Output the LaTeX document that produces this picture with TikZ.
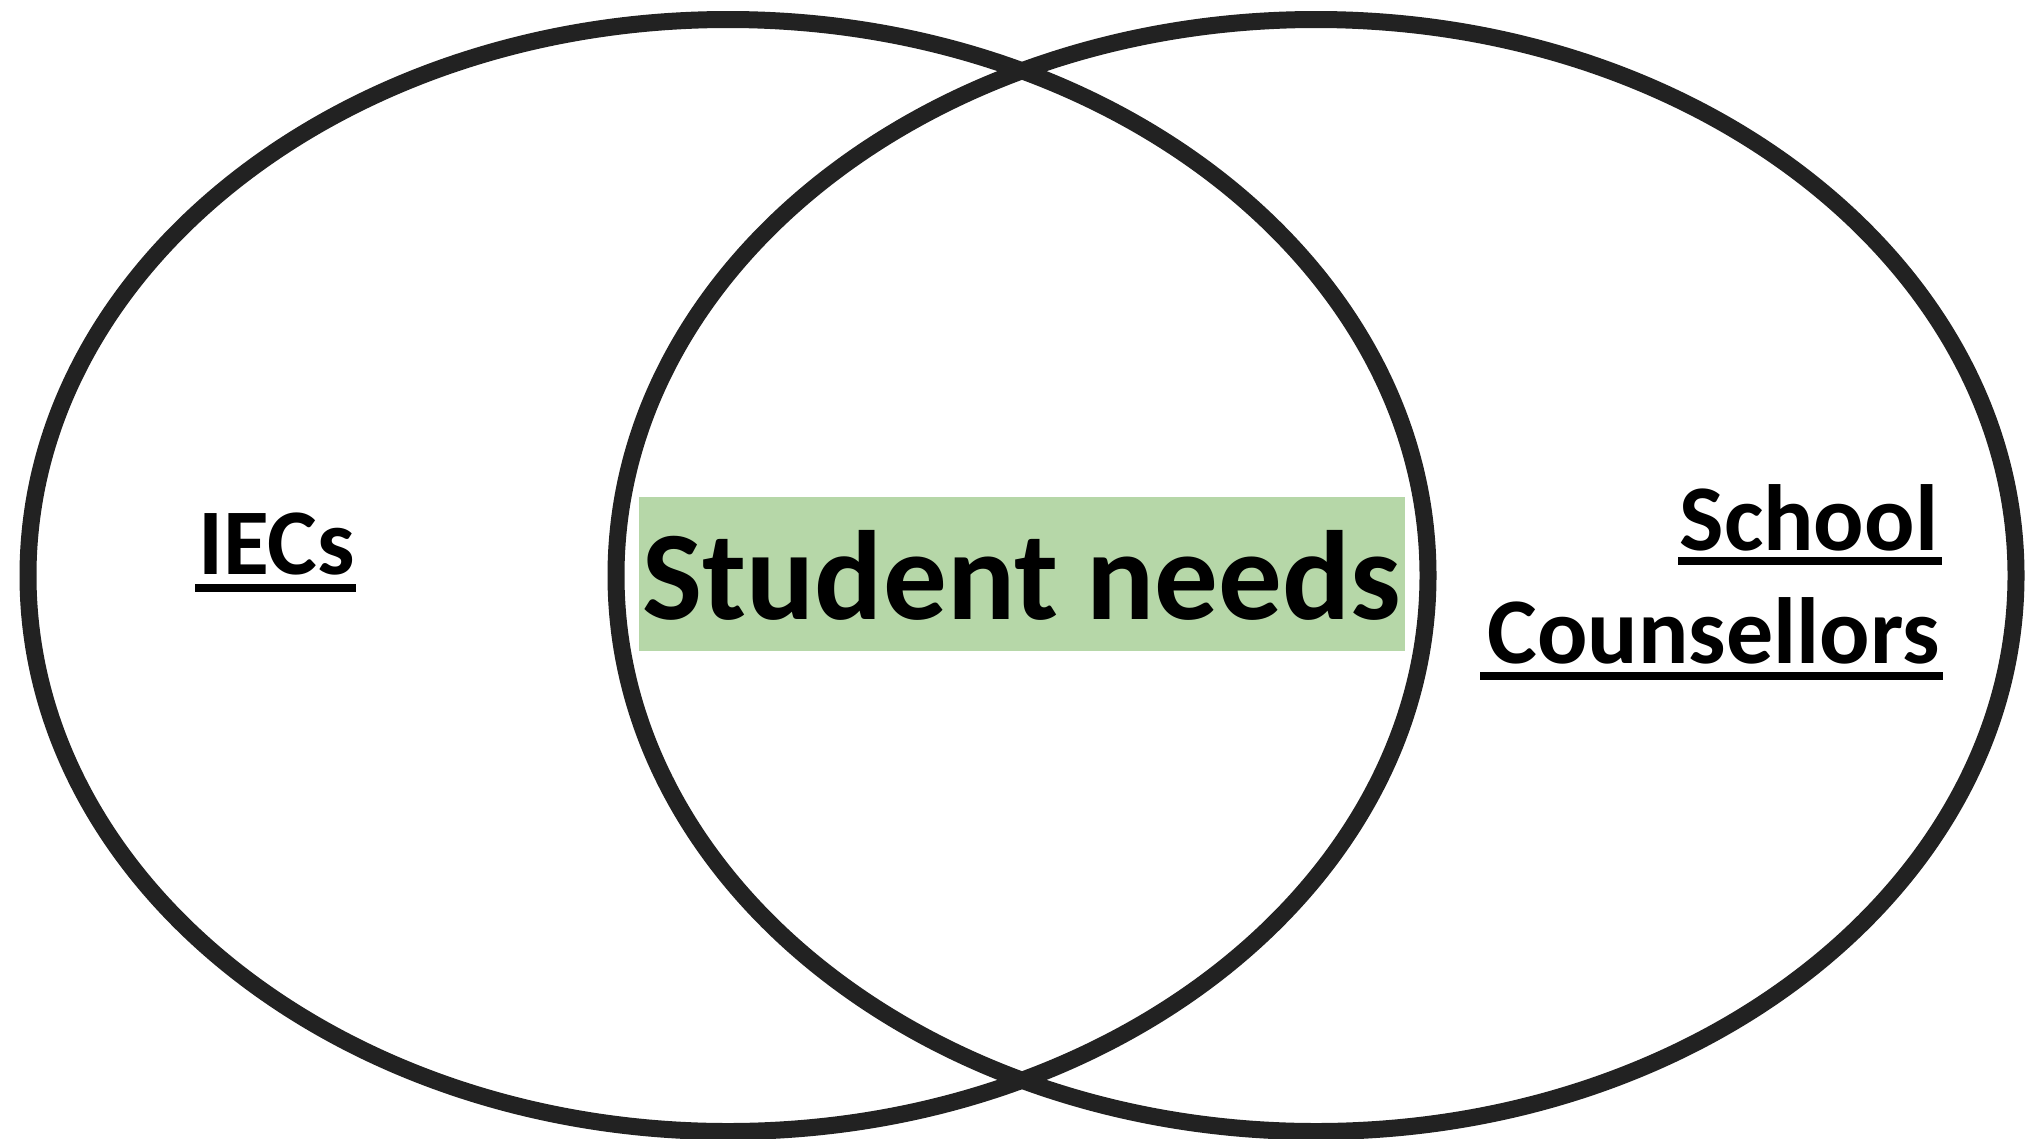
\documentclass[tikz,border=0pt]{standalone}
\usepackage{fontspec}
\setmainfont{Carlito}
\definecolor{ring}{HTML}{222222}
\definecolor{hl}{RGB}{182,215,168}
\tikzset{
  ring/.style={draw=ring, line width=17pt},
  lbl/.style={inner sep=0pt, outer sep=0pt, font=\fontsize{94}{110}\selectfont\bfseries},
  big/.style={inner sep=0pt, outer sep=0pt, font=\fontsize{127}{150}\selectfont\bfseries},
  uline/.style={draw=black, line width=8pt},
}
\begin{document}
\begin{tikzpicture}[x=1pt,y=-1pt]
\useasboundingbox (0,0) rectangle (2033,1138);
\fill[white] (0,0) rectangle (2033,1138);
% green highlight
\fill[hl] (639,497) rectangle (1405,651);
% ellipses
\draw[ring] (728,575.5) ellipse [x radius=700pt, y radius=556pt];
\draw[ring] (1316,575.5) ellipse [x radius=700pt, y radius=556pt];
% texts
\node[big, anchor=base] (needs) at (1022,619) {Student needs};
\node[lbl, anchor=base west] (iec) at (198,574) {IECs};
\node[lbl, anchor=base east] (school) at (1938,550) {School};
\node[lbl, anchor=base east] (couns) at (1940,663) {Counsellors};
% underlines
\coordinate (iecA) at (195,587.5);
\coordinate (iecB) at (356,587.5);
\draw[uline] (iecA) -- (iecB);
\coordinate (schA) at (1678,560.5);
\coordinate (schB) at (1942,560.5);
\draw[uline] (schA) -- (schB);
\coordinate (couA) at (1480,675.5);
\coordinate (couB) at (1943,675.5);
\draw[uline] (couA) -- (couB);
\end{tikzpicture}
\end{document}
